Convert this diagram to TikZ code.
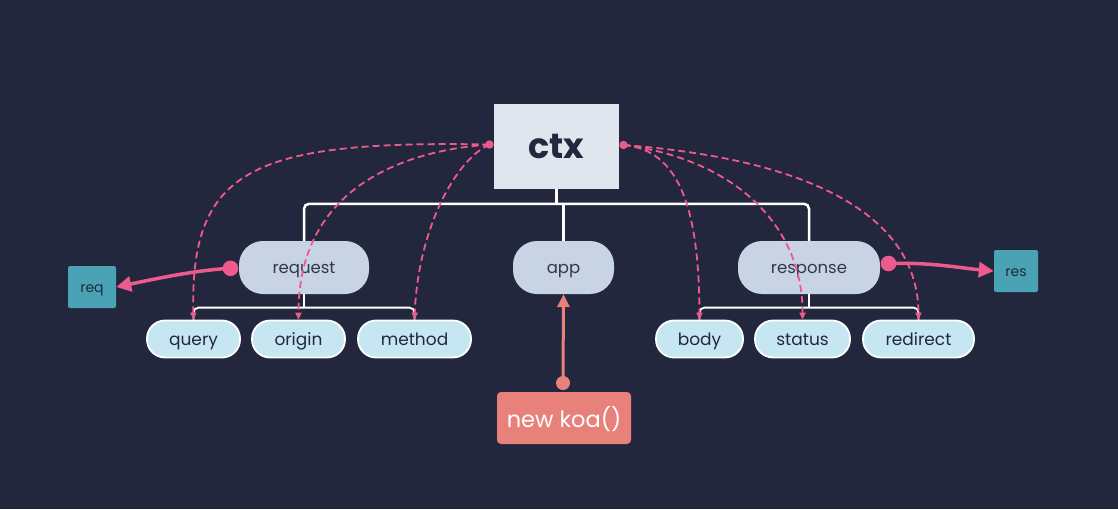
\documentclass[tikz,border=0pt]{standalone}
\usepackage{fontspec}
\setmainfont{Poppins}
\usetikzlibrary{arrows.meta}
\definecolor{bg}{HTML}{22273D}
\definecolor{ctxfill}{HTML}{E1E6EE}
\definecolor{ctxtext}{HTML}{22283D}
\definecolor{midfill}{HTML}{C8D3E4}
\definecolor{midtext}{HTML}{2F3650}
\definecolor{leaffill}{HTML}{C6E7F1}
\definecolor{teal}{HTML}{4AA3B4}
\definecolor{pinkc}{HTML}{EF5A8C}
\definecolor{salmon}{HTML}{E8817A}
\tikzset{
  ctxbox/.style={rectangle, fill=ctxfill, text=ctxtext, minimum width=125pt, minimum height=85pt, inner sep=0pt, text height=23pt, text depth=0pt, font=\fontsize{35}{40}\selectfont\bfseries},
  midpill/.style={rectangle, rounded corners=24pt, fill=midfill, text=midtext, minimum height=53pt, inner sep=0pt, text height=12pt, text depth=0pt, font=\fontsize{16.5}{19}\selectfont},
  leafpill/.style={rectangle, rounded corners=18pt, fill=leaffill, draw=white, line width=1.8pt, text=ctxtext, minimum height=37pt, inner sep=0pt, text height=12.5pt, text depth=0pt, font=\fontsize{17}{19}\selectfont},
  tealbox/.style={rectangle, rounded corners=2pt, fill=teal, text=ctxtext, minimum width=46pt, minimum height=42pt, inner sep=0pt, text height=11pt, text depth=0pt, font=\fontsize{14}{16}\selectfont},
  koabox/.style={rectangle, rounded corners=4pt, fill=salmon, text=white, minimum width=134pt, minimum height=52pt, inner sep=0pt, text height=18pt, text depth=0pt, font=\fontsize{22.5}{26}\selectfont},
  treeline/.style={draw=white, line width=2.5pt, rounded corners=5pt},
  subtree/.style={draw=white, line width=1.8pt, rounded corners=5pt},
  pinkdash/.style={draw=pinkc, line width=1.8pt, dash pattern=on 7pt off 4pt, -{Triangle[length=7pt,width=6pt]}},
  pinkarrow/.style={draw=pinkc, line width=3.5pt, -{Triangle[length=15pt,width=15pt]}},
  koaarrow/.style={draw=salmon, line width=3pt, -{Triangle[length=13pt,width=12pt]}},
}
\begin{document}
\begin{tikzpicture}[x=1pt,y=-1pt]
\fill[bg] (0,0) rectangle (1118,509);
\useasboundingbox (0,0) rectangle (1118,509);

% nodes
\node[ctxbox] (ctx) at (556.5,146.5) {ctx};
\node[midpill, minimum width=130pt] (request) at (304,267.5) {request};
\node[midpill, minimum width=101pt] (app) at (563.5,267.5) {app};
\node[midpill, minimum width=142pt] (response) at (809,267.5) {response};

\node[leafpill, minimum width=93pt] (query) at (193.5,339) {query};
\node[leafpill, minimum width=93pt] (origin) at (298.5,339) {origin};
\node[leafpill, minimum width=113pt] (method) at (414.5,339) {method};
\node[leafpill, minimum width=87pt] (body) at (699.5,339) {body};
\node[leafpill, minimum width=95pt] (status) at (802.5,339) {status};
\node[leafpill, minimum width=111pt] (redirect) at (918.5,339) {redirect};

\node[tealbox, minimum width=48pt] (req) at (92,287) {req};
\node[tealbox, minimum width=44pt] (res) at (1016,271) {res};

\node[koabox] (koa) at (564,418) {new koa()};

% tree lines
\draw[treeline, line width=3.5pt, rounded corners=0pt] (ctx.south) -- ++(0,15);
\draw[treeline] (request.north) -- ++(0,-37) -| (response.north);
\draw[treeline, rounded corners=0pt] (app.north) -- ++(0,-37);
\draw[subtree] (query.north) -- ++(0,-12) -| (method.north);
\draw[subtree, rounded corners=0pt] (request.south) -- ++(0,14);
\draw[subtree] (body.north) -- ++(0,-12) -| (redirect.north);
\draw[subtree, rounded corners=0pt] (response.south) -- ++(0,14);

% pink dashed links
\coordinate (cl) at (489.5,144.5);
\coordinate (cr) at (623.5,145);
\draw[pinkdash] (cl) .. controls (250,140) and (190,170) .. (query.north);
\draw[pinkdash] (cl) .. controls (385,152) and (298,200) .. (origin.north);
\draw[pinkdash] (cl) .. controls (455,160) and (418,230) .. (method.north);
\draw[pinkdash] (cr) .. controls (680,150) and (699,210) .. (body.north);
\draw[pinkdash] (cr) .. controls (740,160) and (803,230) .. (status.north);
\draw[pinkdash] (cr) .. controls (820,160) and (918,220) .. (redirect.north);
\fill[pinkc] (cl) circle (4.2pt);
\fill[pinkc] (cr) circle (4.2pt);

% solid pink arrows
\coordinate (reqdot) at (230.5,268.3);
\coordinate (resdot) at (888.5,263.5);
\draw[pinkarrow] (reqdot) .. controls (195,270) and (150,280) .. (req.east);
\draw[pinkarrow] (resdot) .. controls (930,262) and (960,268) .. (res.west);
\fill[pinkc] (reqdot) circle (7.8pt);
\fill[pinkc] (resdot) circle (7.8pt);

% koa arrow
\coordinate (koadot) at (563,383);
\draw[koaarrow] (koadot) -- (app.south);
\fill[salmon] (koadot) circle (7pt);
\end{tikzpicture}
\end{document}
